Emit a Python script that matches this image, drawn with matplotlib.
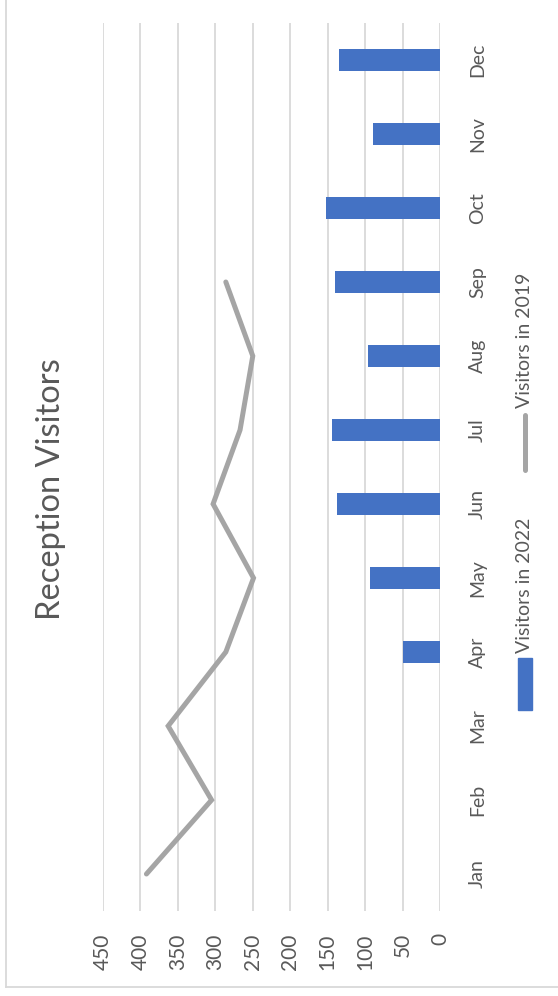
import matplotlib
matplotlib.use("Agg")
import matplotlib.pyplot as plt
from matplotlib.lines import Line2D
from matplotlib.patches import Rectangle

months = ["Jan", "Feb", "Mar", "Apr", "May", "Jun", "Jul", "Aug", "Sep", "Oct", "Nov", "Dec"]
visitors_2022 = [None, None, None, 50, 94, 138, 144, 96, 140, 152, 89, 135]
visitors_2019 = [392, 305, 363, 286, 249, 303, 267, 250, 286, None, None, None]
value_ticks = [0, 50, 100, 150, 200, 250, 300, 350, 400, 450]
title = "Reception Visitors"
name_2022 = "Visitors in 2022"
name_2019 = "Visitors in 2019"

BAR = "#4472C4"
LINE = "#A5A5A5"
TXT = "#595959"
GRID = "#D9D9D9"

plt.rcParams['font.family'] = ['Lato', 'DejaVu Sans']

W, H = 558, 996
fig = plt.figure(figsize=(W / 100, H / 100), dpi=100)
fig.patch.set_facecolor("white")

def fx(px):
    return px / W

def fy(py):
    return 1 - py / H

ax = fig.add_axes([fx(103), fy(911), fx(440) - fx(103), fy(23) - fy(911)])
ax.set_xlim(max(value_ticks), 0)
ax.set_ylim(-0.5, len(months) - 0.5)

for s in ax.spines.values():
    s.set_visible(False)

for v in value_ticks:
    ax.axvline(v, color=GRID, lw=1.3, zorder=0)

ypos = list(range(len(months)))
bar_y = [y for y, v in zip(ypos, visitors_2022) if v is not None]
bar_v = [v for v in visitors_2022 if v is not None]
ax.barh(bar_y, bar_v, height=0.31, color=BAR, zorder=2)

line_y = [y for y, v in zip(ypos, visitors_2019) if v is not None]
line_v = [v for v in visitors_2019 if v is not None]
ax.plot(line_v, line_y, color=LINE, lw=3.6, solid_capstyle="round", solid_joinstyle="miter", zorder=3)

ax.set_xticks(value_ticks)
ax.set_xticklabels([str(v) for v in value_ticks], rotation=90, color=TXT, fontsize=15)
ax.tick_params(axis="x", length=0, pad=16)

ax.yaxis.tick_right()
ax.set_yticks(ypos)
ax.set_yticklabels(months, rotation=90, color=TXT, fontsize=14, va="center")
ax.tick_params(axis="y", length=0, pad=21)

fig.text(fx(51), fy(489), title, rotation=90, ha="center", va="center", color=TXT, fontsize=23.5)

# legend (manual, rotated)
fig.add_artist(Line2D([fx(525), fx(525)], [fy(470), fy(415)], color=LINE, lw=3.6,
                      solid_capstyle="round", transform=fig.transFigure))
fig.text(fx(525), fy(408), name_2019, rotation=90, ha="center", va="bottom", color=TXT, fontsize=14)
fig.add_artist(Rectangle((fx(518), fy(710)), fx(14), fy(658) - fy(710), color=BAR,
                         transform=fig.transFigure))
fig.text(fx(525), fy(653), name_2022, rotation=90, ha="center", va="bottom", color=TXT, fontsize=14)

# chart border
fig.add_artist(Line2D([fx(5.5), fx(5.5)], [fy(987), 1.0], color=GRID, lw=1.3, transform=fig.transFigure))
fig.add_artist(Line2D([fx(5.5), 1.0], [fy(987), fy(987)], color=GRID, lw=1.3, transform=fig.transFigure))

fig.savefig("out.png", dpi=100, facecolor="white")
